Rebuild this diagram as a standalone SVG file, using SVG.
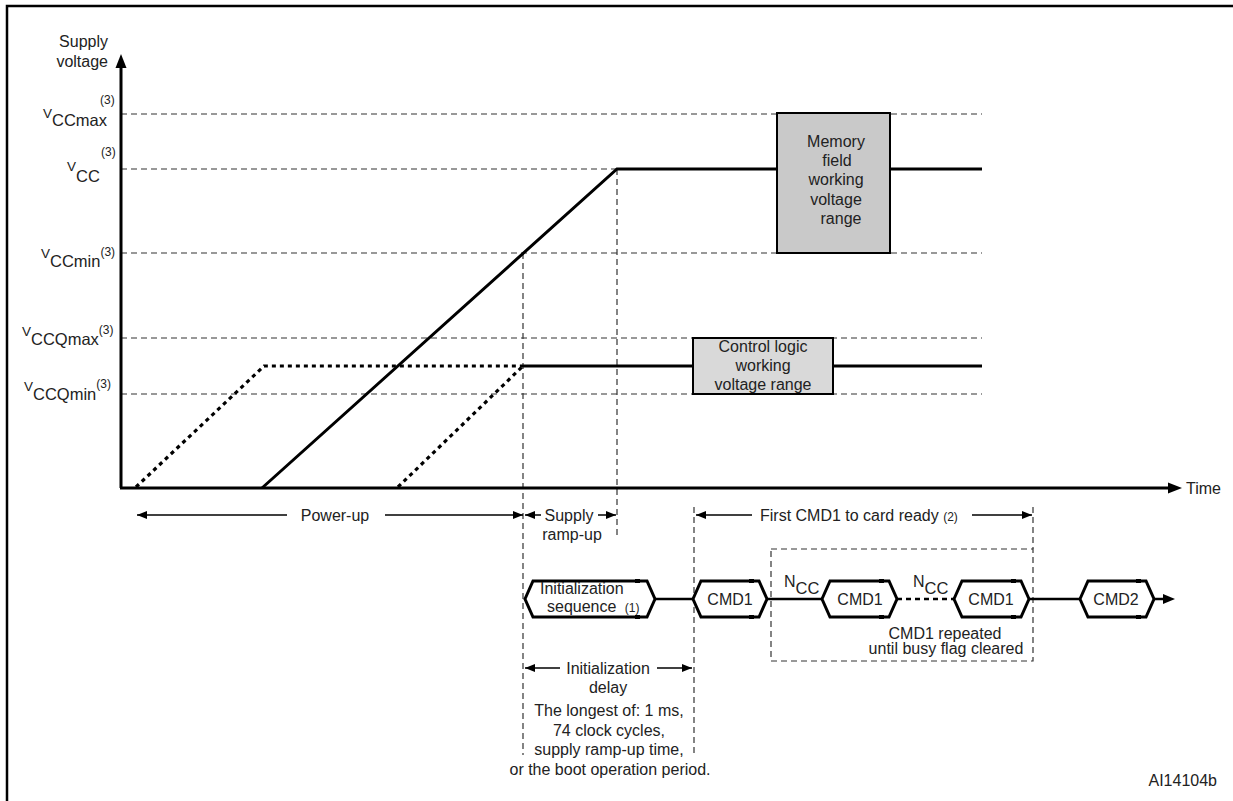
<svg xmlns="http://www.w3.org/2000/svg" width="1233" height="801" viewBox="0 0 1233 801">
<defs>
<marker id="ah" viewBox="0 0 10 8" refX="10" refY="4" markerWidth="10" markerHeight="8" markerUnits="userSpaceOnUse" orient="auto-start-reverse"><path d="M0,0 L10,4 L0,8 z" fill="#000"/></marker>
</defs>
<style>
text{font-family:"Liberation Sans",Arial,sans-serif;font-size:16px;fill:#222}
.sm{font-size:12px}
.v{font-size:13.5px}
.grid{stroke:#333;stroke-width:1.2;stroke-dasharray:6 4;fill:none}
.solid{stroke:#000;stroke-width:3;fill:none}
.dot{stroke:#000;stroke-width:3.2;stroke-dasharray:4 4;fill:none}
.meas{stroke:#000;stroke-width:1.5;fill:none;marker-end:url(#ah)}
.hex{fill:#fff;stroke:#000;stroke-width:3;stroke-linejoin:miter}
.tick{stroke:#000;stroke-width:4}
.conn{stroke:#000;stroke-width:2.5;fill:none}
.mid{text-anchor:middle}
.end{text-anchor:end}
</style>
<rect width="1233" height="801" fill="#fff"/>
<path d="M7,801 V6 H1233" stroke="#000" stroke-width="2.5" fill="none"/>

<g id="axis-labels">
<text x="108" y="47" class="end">Supply</text>
<text x="108" y="67" class="end">voltage</text>
<text><tspan x="43" y="118" class="v">V</tspan><tspan y="126" font-size="16.5">CCmax</tspan></text>
<text x="100" y="104" class="sm">(3)</text>
<text><tspan x="67" y="171" class="v">V</tspan><tspan y="182" font-size="16.5">CC</tspan></text>
<text x="101" y="156" class="sm">(3)</text>
<text><tspan x="41" y="258" class="v">V</tspan><tspan y="267" font-size="16.5">CCmin</tspan><tspan y="256" class="sm">(3)</tspan></text>
<text><tspan x="22" y="336" class="v">V</tspan><tspan y="345" font-size="16.5">CCQmax</tspan><tspan y="334" class="sm">(3)</tspan></text>
<text><tspan x="24" y="391" class="v">V</tspan><tspan y="400" font-size="16.5">CCQmin</tspan><tspan y="388" class="sm">(3)</tspan></text>
<text x="1186" y="494">Time</text>
</g>

<g id="grid-lines">
<line class="grid" x1="121" y1="114" x2="982" y2="114"/>
<line class="grid" x1="121" y1="169" x2="617" y2="169"/>
<line class="grid" x1="121" y1="253" x2="982" y2="253"/>
<line class="grid" x1="121" y1="338" x2="982" y2="338"/>
<line class="grid" x1="121" y1="394" x2="982" y2="394"/>
<line class="grid" x1="523" y1="253" x2="523" y2="755"/>
<line class="grid" x1="617" y1="169" x2="617" y2="538"/>
<line class="grid" x1="694" y1="507" x2="694" y2="755"/>
<line class="grid" x1="1033" y1="507" x2="1033" y2="549"/>
<rect class="grid" x="771" y="549" width="262" height="112"/>
</g>

<g id="axes">
<line x1="121" y1="488" x2="121" y2="64" stroke="#000" stroke-width="3"/>
<polygon points="121,54 115.5,68 126.5,68" fill="#000"/>
<line x1="120" y1="488" x2="1172" y2="488" stroke="#000" stroke-width="3"/>
<polygon points="1182,488 1168,482.5 1168,493.5" fill="#000"/>
</g>

<g id="curves">
<polyline class="solid" points="262,488 617,169 777,169"/>
<line class="solid" x1="890" y1="169" x2="982" y2="169"/>
<polyline class="dot" points="136,487 264,366 523,366"/>
<line class="dot" x1="398" y1="487" x2="523" y2="366"/>
<line class="solid" x1="523" y1="366" x2="693" y2="366"/>
<line class="solid" x1="833" y1="366" x2="982" y2="366"/>
</g>

<g id="memory-box">
<rect x="777" y="113" width="113" height="140" fill="#c9c9c9" stroke="#000" stroke-width="2"/>
<text x="836" y="147" class="mid">Memory</text>
<text x="837" y="166" class="mid">field</text>
<text x="836" y="185" class="mid">working</text>
<text x="836" y="205" class="mid">voltage</text>
<text x="841" y="224" class="mid">range</text>
</g>

<g id="control-box">
<rect x="693" y="338" width="140" height="56" fill="#d9d9d9"/>
<text x="763" y="352" class="mid">Control logic</text>
<text x="763" y="371" class="mid">working</text>
<text x="763" y="390" class="mid">voltage range</text>
<rect x="693" y="338" width="140" height="56" fill="none" stroke="#000" stroke-width="2"/>
</g>

<g id="measurements">
<line class="meas" x1="287" y1="515" x2="137" y2="515"/>
<line class="meas" x1="385" y1="515" x2="523" y2="515"/>
<text x="335" y="521" class="mid">Power-up</text>
<line class="meas" x1="541" y1="515" x2="525" y2="515"/>
<line class="meas" x1="598" y1="515" x2="616" y2="515"/>
<text x="569" y="521" class="mid">Supply</text>
<text x="572" y="540" class="mid">ramp-up</text>
<line class="meas" x1="752" y1="515" x2="696" y2="515"/>
<line class="meas" x1="972" y1="515" x2="1032" y2="515"/>
<text x="760" y="521">First CMD1 to card ready <tspan class="sm">(2)</tspan></text>
<line class="meas" x1="560" y1="668" x2="525" y2="668"/>
<line class="meas" x1="657" y1="668" x2="692" y2="668"/>
<text x="608" y="674" class="mid">Initialization</text>
<text x="608" y="693" class="mid">delay</text>
<text x="609" y="716" class="mid">The longest of: 1 ms,</text>
<text x="609" y="735.5" class="mid">74 clock cycles,</text>
<text x="609" y="755" class="mid">supply ramp-up time,</text>
<text x="610" y="774.5" class="mid">or the boot operation period.</text>
</g>

<g id="connectors">
<line class="conn" x1="655" y1="599" x2="693" y2="599"/>
<line class="conn" x1="767" y1="599" x2="822" y2="599"/>
<line class="conn" x1="897" y1="599" x2="954" y2="599" stroke-dasharray="5 4" stroke-width="3"/>
<line class="conn" x1="1029" y1="599" x2="1080" y2="599"/>
<line x1="1154" y1="599" x2="1166" y2="599" stroke="#000" stroke-width="2.5"/>
<polygon points="1175,599 1163,594 1163,604" fill="#000"/>
</g>

<g id="init-seq">
<path class="hex" d="M525,599 L533,581 L647,581 L655,599 L647,617 L533,617 Z"/>
<path class="tick" d="M635,581 H640 M635,617 H640"/>
<text x="540" y="594">Initialization</text>
<text x="547" y="612">sequence <tspan class="sm" dx="4">(1)</tspan></text>
</g>
<g id="cmd1-a">
<path class="hex" d="M693,599 L701,581 L759,581 L767,599 L759,617 L701,617 Z"/>
<path class="tick" d="M749,581 H754 M749,617 H754"/>
<text x="730" y="605" class="mid">CMD1</text>
</g>
<g id="cmd1-b">
<path class="hex" d="M822,599 L830,581 L889,581 L897,599 L889,617 L830,617 Z"/>
<path class="tick" d="M879,581 H884 M879,617 H884"/>
<text x="860" y="605" class="mid">CMD1</text>
</g>
<g id="cmd1-c">
<path class="hex" d="M954,599 L962,581 L1021,581 L1029,599 L1021,617 L962,617 Z"/>
<path class="tick" d="M1011,581 H1016 M1011,617 H1016"/>
<text x="991" y="605" class="mid">CMD1</text>
</g>
<g id="cmd2">
<path class="hex" d="M1080,599 L1088,581 L1146,581 L1154,599 L1146,617 L1088,617 Z"/>
<path class="tick" d="M1136,581 H1141 M1136,617 H1141"/>
<text x="1116" y="605" class="mid">CMD2</text>
</g>

<g id="ncc-labels">
<text x="784" y="587" font-size="14">N<tspan y="594" font-size="16.5">CC</tspan></text>
<text x="913" y="587" font-size="14">N<tspan y="594" font-size="16.5">CC</tspan></text>
<text x="945" y="639" class="mid">CMD1 repeated</text>
<text x="946" y="654" class="mid">until busy flag cleared</text>
</g>

<text x="1217" y="786" class="end" font-size="12.5">AI14104b</text>
</svg>
